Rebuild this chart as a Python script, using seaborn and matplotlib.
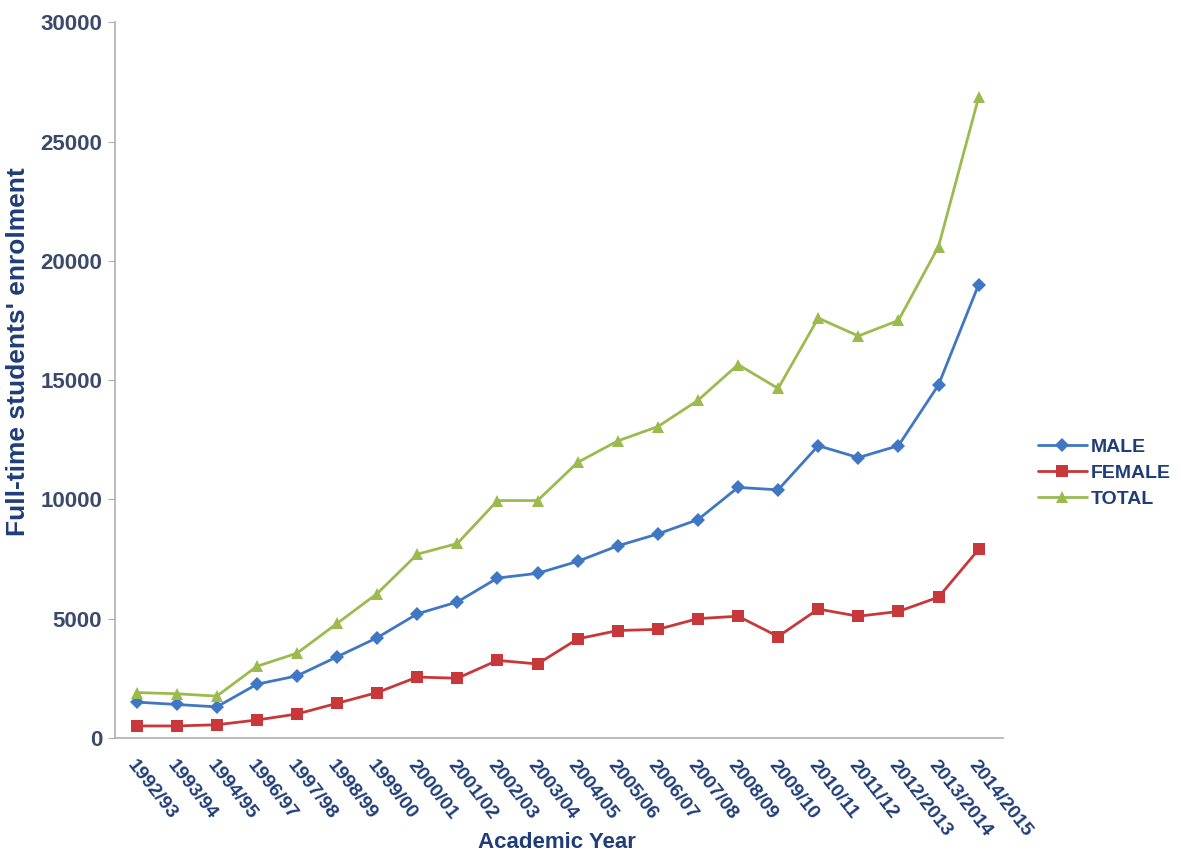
import pandas as pd
import seaborn as sns
import matplotlib.pyplot as plt

# academic years (x axis)
years = ['1992/93', '1993/94', '1994/95', '1996/97', '1997/98', '1998/99', '1999/00',
         '2000/01', '2001/02', '2002/03', '2003/04', '2004/05', '2005/06', '2006/07',
         '2007/08', '2008/09', '2009/10', '2010/11', '2011/12', '2012/2013',
         '2013/2014', '2014/2015']

# enrolment
male = [1500, 1400, 1300, 2250, 2600, 3400, 4200, 5200, 5700, 6700, 6900, 7400,
        8050, 8550, 9150, 10500, 10400, 12250, 11750, 12250, 14800, 19000]
female = [500, 500, 550, 750, 1000, 1450, 1900, 2550, 2500, 3250, 3100, 4150,
          4500, 4550, 5000, 5100, 4250, 5400, 5100, 5300, 5900, 7900]
total = [1900, 1850, 1750, 3000, 3550, 4800, 6050, 7700, 8150, 9950, 9950, 11550,
         12450, 13050, 14150, 15650, 14650, 17600, 16850, 17500, 20600, 26850]

df = pd.concat([
    pd.DataFrame({'year': years, 'value': male, 'series': 'MALE'}),
    pd.DataFrame({'year': years, 'value': female, 'series': 'FEMALE'}),
    pd.DataFrame({'year': years, 'value': total, 'series': 'TOTAL'}),
])

navy = '#1f3d78'
sns.set_style('white')
plt.rcParams['font.family'] = ['Liberation Sans', 'DejaVu Sans']

fig = plt.figure(figsize=(11.81, 8.58), dpi=100)
ax = fig.add_axes([0.097, 0.14, 0.752, 0.834])

palette = {'MALE': '#3f77c4', 'FEMALE': '#c8383a', 'TOTAL': '#9bbb4f'}
markers = {'MALE': 'D', 'FEMALE': 's', 'TOTAL': '^'}
sns.lineplot(data=df, x='year', y='value', hue='series', style='series',
             palette=palette, markers=markers, dashes=False, sort=False,
             linewidth=2.0, markersize=9, markeredgewidth=0, ax=ax)
# diamonds look smaller in the original
for ln in ax.get_lines():
    if ln.get_marker() == 'D':
        ln.set_markersize(7)

ax.set_ylim(0, 30000)
ax.set_yticks(range(0, 30001, 5000))
ax.set_xlim(-0.55, 21.6)

for s in ['top', 'right']:
    ax.spines[s].set_visible(False)
for s in ['left', 'bottom']:
    ax.spines[s].set_color('#b0b0b0')
    ax.spines[s].set_linewidth(1.2)

ax.tick_params(axis='y', left=True, length=5, color='#b0b0b0', labelsize=16,
               labelcolor='#3b4a6b', pad=4)
ax.tick_params(axis='x', bottom=False, labelsize=14, labelcolor=navy, pad=10)
for t in ax.get_yticklabels():
    t.set_fontweight('bold')
for t in ax.get_xticklabels():
    t.set_fontweight('bold')
    t.set_rotation(-52)
    t.set_ha('left')
    t.set_va('top')
    t.set_rotation_mode('anchor')

ax.set_xlabel('Academic Year', fontsize=16, fontweight='bold', color=navy)
ax.xaxis.set_label_coords(0.498, -0.131)
ax.set_ylabel("Full-time students' enrolment", fontsize=19, fontweight='bold',
              color=navy)
ax.yaxis.set_label_coords(-0.095, 0.54)

leg = ax.legend(loc='center left', bbox_to_anchor=(1.02, 0.37), frameon=False,
                fontsize=14, handlelength=2.5, labelspacing=0.45, handletextpad=0.2)
for t in leg.get_texts():
    t.set_fontweight('bold')
    t.set_color(navy)

plt.savefig('out.png', dpi=100)
